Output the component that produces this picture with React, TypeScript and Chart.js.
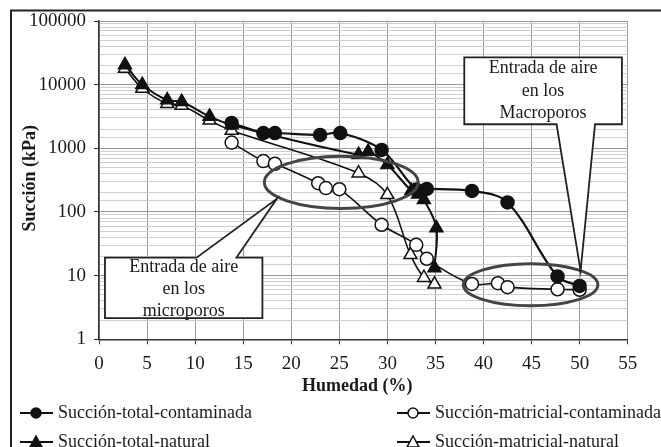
import { useEffect, useRef } from "react";
import { Chart, registerables } from "chart.js";
Chart.register(...registerables);

// ---- Data ----
const totalContX = [13.8, 17.1, 18.3, 23.0, 25.1, 29.4, 33.0, 34.1, 38.8, 42.5, 47.7, 50.0];
const totalContY = [2500, 1740, 1740, 1620, 1740, 945, 225, 230, 214, 141, 9.7, 6.9];

const matContX = [13.8, 17.1, 18.3, 22.8, 23.6, 25.0, 29.4, 33.0, 34.1, 38.8, 41.5, 42.5, 47.7, 50.0];
const matContY = [1230, 630, 570, 283, 237, 228, 63, 30.5, 18.4, 7.4, 7.6, 6.6, 6.1, 6.0];

const totalNatX = [2.7, 4.5, 7.1, 8.6, 11.5, 13.8, 27.0, 28.0, 30.0, 32.5, 33.2, 33.8, 35.1, 34.9];
const totalNatY = [20400, 10000, 5740, 5400, 3170, 2330, 795, 890, 550, 215, 190, 155, 56, 13.2];

const matNatX = [2.7, 4.5, 7.1, 8.6, 11.5, 13.8, 27.0, 30.0, 32.4, 33.8, 34.9];
const matNatY = [18000, 8700, 5000, 4700, 2750, 1900, 407, 186, 21.2, 9.3, 7.3];

const seriesNames = [
  "Succión-total-contaminada",
  "Succión-matricial-contaminada",
  "Succión-total-natural",
  "Succión-matricial-natural",
];

const xTickStep = 5;
const xMin = 0;
const xMax = 55;
const yMin = 1;
const yMax = 100000;

// annotation shapes in data coordinates
const ellipseMicro = { cx: 25.2, cy: 292, rx: 8.0, ryDec: 0.41 };
const ellipseMacro = { cx: 44.9, cy: 7.2, rx: 7.0, ryDec: 0.33 };
const calloutMicro = {
  x0: 0.62, x1: 17.0, yTop: 19.2, yBot: 2.15,
  baseA: 10.15, baseB: 14.3, tipX: 18.5, tipY: 161,
  lines: ["Entrada de aire", "en los", "microporos"],
  offsets: [10, 32, 54],
};
const calloutMacro = {
  x0: 38.0, x1: 54.4, yTop: 26900, yBot: 2390,
  baseA: 47.6, baseB: 51.6, tipX: 50.1, tipY: 11.9,
  lines: ["Entrada de aire", "en los", "Macroporos"],
  offsets: [11, 33.5, 55.5],
};

const SERIF = "'Liberation Serif', 'DejaVu Serif', serif";

function zip(xs: number[], ys: number[]) {
  return xs.map((x, i) => ({ x, y: ys[i] }));
}

function isPow10(v: number) {
  const l = Math.log10(v);
  return Math.abs(l - Math.round(l)) < 1e-9;
}

export default function App() {
  const ref = useRef<HTMLCanvasElement | null>(null);

  useEffect(() => {
    if (!ref.current) return;

    const overlay = {
      id: "overlay",
      afterDatasetsDraw(chart: any) {
        const ctx = chart.ctx as CanvasRenderingContext2D;
        const xs = chart.scales.x;
        const ys = chart.scales.y;
        ctx.save();

        const drawEllipse = (e: any) => {
          const cx = xs.getPixelForValue(e.cx);
          const rx = xs.getPixelForValue(e.cx + e.rx) - cx;
          const cy = ys.getPixelForValue(e.cy);
          const ry = cy - ys.getPixelForValue(e.cy * Math.pow(10, e.ryDec));
          ctx.beginPath();
          ctx.ellipse(cx, cy, rx, ry, 0, 0, Math.PI * 2);
          ctx.lineWidth = 3;
          ctx.strokeStyle = "#444";
          ctx.stroke();
        };
        drawEllipse(ellipseMicro);
        drawEllipse(ellipseMacro);

        const drawCallout = (c: any, pointerFromTop: boolean) => {
          const x0 = xs.getPixelForValue(c.x0);
          const x1 = xs.getPixelForValue(c.x1);
          const yT = ys.getPixelForValue(c.yTop);
          const yB = ys.getPixelForValue(c.yBot);
          const bA = xs.getPixelForValue(c.baseA);
          const bB = xs.getPixelForValue(c.baseB);
          const tx = xs.getPixelForValue(c.tipX);
          const ty = ys.getPixelForValue(c.tipY);
          ctx.beginPath();
          if (pointerFromTop) {
            ctx.moveTo(x0, yT);
            ctx.lineTo(bA, yT);
            ctx.lineTo(tx, ty);
            ctx.lineTo(bB, yT);
            ctx.lineTo(x1, yT);
            ctx.lineTo(x1, yB);
            ctx.lineTo(x0, yB);
            ctx.closePath();
          } else {
            ctx.moveTo(x0, yT);
            ctx.lineTo(x1, yT);
            ctx.lineTo(x1, yB);
            ctx.lineTo(bB, yB);
            ctx.lineTo(tx, ty);
            ctx.lineTo(bA, yB);
            ctx.lineTo(x0, yB);
            ctx.closePath();
          }
          ctx.fillStyle = "#fff";
          ctx.fill();
          ctx.lineWidth = 1.8;
          ctx.strokeStyle = "#222";
          ctx.stroke();
          ctx.fillStyle = "#1a1a1a";
          ctx.font = `18px ${SERIF}`;
          ctx.textAlign = "center";
          ctx.textBaseline = "middle";
          const mid = (x0 + x1) / 2;
          c.lines.forEach((t: string, i: number) => {
            ctx.fillText(t, mid, yT + c.offsets[i]);
          });
        };
        drawCallout(calloutMicro, true);
        drawCallout(calloutMacro, false);
        ctx.restore();
      },
      afterDraw(chart: any) {
        const ctx = chart.ctx as CanvasRenderingContext2D;
        const area = chart.chartArea;
        ctx.save();
        ctx.strokeStyle = "#222";
        ctx.lineWidth = 2;
        ctx.beginPath();
        ctx.moveTo(11, 447);
        ctx.lineTo(11, 10.5);
        ctx.lineTo(661, 10.5);
        ctx.stroke();

        ctx.fillStyle = "#1a1a1a";
        ctx.font = `bold 18px ${SERIF}`;
        ctx.textAlign = "center";
        ctx.textBaseline = "middle";
        ctx.fillText("Humedad (%)", (area.left + area.right) / 2 - 6, 386);
        ctx.save();
        ctx.translate(30, (area.top + area.bottom) / 2 - 2);
        ctx.rotate(-Math.PI / 2);
        ctx.fillText("Succión (kPa)", 0, 0);
        ctx.restore();

        const items = [
          { name: seriesNames[0], x: 20, y: 413, style: "circle", fill: true },
          { name: seriesNames[1], x: 397, y: 413, style: "circle", fill: false },
          { name: seriesNames[2], x: 20, y: 442, style: "triangle", fill: true },
          { name: seriesNames[3], x: 397, y: 442, style: "triangle", fill: false },
        ];
        ctx.font = `18px ${SERIF}`;
        ctx.textAlign = "left";
        items.forEach((it) => {
          ctx.strokeStyle = "#111";
          ctx.lineWidth = 2;
          ctx.beginPath();
          ctx.moveTo(it.x, it.y);
          ctx.lineTo(it.x + 33, it.y);
          ctx.stroke();
          const mx = it.x + 16;
          ctx.beginPath();
          if (it.style === "circle") {
            ctx.arc(mx, it.y, 5, 0, Math.PI * 2);
          } else {
            ctx.moveTo(mx, it.y - 6);
            ctx.lineTo(mx + 6, it.y + 5);
            ctx.lineTo(mx - 6, it.y + 5);
            ctx.closePath();
          }
          ctx.fillStyle = it.fill ? "#111" : "#fff";
          ctx.fill();
          ctx.lineWidth = 1.5;
          ctx.stroke();
          ctx.fillStyle = "#1a1a1a";
          ctx.fillText(it.name, it.x + 38, it.y);
        });
        ctx.restore();
      },
    };

    const common = {
      borderColor: "#111",
      showLine: true,
      tension: 0.35,
      pointBorderColor: "#111",
      pointBorderWidth: 1.5,
    };

    const chart = new Chart(ref.current, {
      type: "line",
      data: {
        datasets: [
          {
            ...common,
            label: seriesNames[0],
            data: zip(totalContX, totalContY),
            borderWidth: 2.2,
            pointStyle: "circle",
            pointRadius: 6.5,
            pointBackgroundColor: "#111",
          },
          {
            ...common,
            label: seriesNames[2],
            data: zip(totalNatX, totalNatY),
            borderWidth: 2,
            pointStyle: "triangle",
            pointRadius: 7.5,
            pointBackgroundColor: "#111",
          },
          {
            ...common,
            label: seriesNames[1],
            data: zip(matContX, matContY),
            borderWidth: 1.6,
            pointStyle: "circle",
            pointRadius: 6.5,
            pointBackgroundColor: "#fff",
          },
          {
            ...common,
            label: seriesNames[3],
            data: zip(matNatX, matNatY),
            borderWidth: 1.6,
            pointStyle: "triangle",
            pointRadius: 7.5,
            pointBackgroundColor: "#fff",
          },
        ] as any,
      },
      options: {
        animation: false,
        responsive: false,
        devicePixelRatio: 1,
        layout: { padding: { left: 0, top: 21, right: 33.3, bottom: 0 } },
        plugins: {
          legend: { display: false },
          tooltip: { enabled: false },
        },
        scales: {
          x: {
            type: "linear",
            min: xMin,
            max: xMax,
            ticks: {
              stepSize: xTickStep,
              color: "#1a1a1a",
              font: { family: SERIF, size: 19 },
              padding: 8,
            },
            grid: { color: "#9a9a9a", lineWidth: 1, tickLength: 5, tickColor: "#333" },
            border: { color: "#333", width: 1.5 },
            afterFit: (s: any) => {
              s.height = 447 - 339.3;
            },
          },
          y: {
            type: "logarithmic",
            min: yMin,
            max: yMax,
            ticks: {
              autoSkip: false,
              color: "#1a1a1a",
              font: { family: SERIF, size: 19 },
              padding: 8,
              callback: (v: any) => (isPow10(Number(v)) ? String(Number(v)) : ""),
            },
            grid: {
              color: (c: any) => (c.tick && isPow10(c.tick.value) ? "#9a9a9a" : "#cfcfcf"),
              lineWidth: 1,
              tickLength: 5,
              tickColor: (c: any) => (c.tick && isPow10(c.tick.value) ? "#333" : "rgba(0,0,0,0)"),
            },
            border: { color: "#333", width: 1.5 },
            afterFit: (s: any) => {
              s.width = 99;
            },
          },
        },
      } as any,
      plugins: [overlay],
    });

    return () => chart.destroy();
  }, []);

  return (
    <div style={{ position: "fixed", left: 0, top: 0, width: 661, height: 447, background: "#fff" }}>
      <canvas ref={ref} width={661} height={447} style={{ display: "block", width: 661, height: 447 }} />
    </div>
  );
}
